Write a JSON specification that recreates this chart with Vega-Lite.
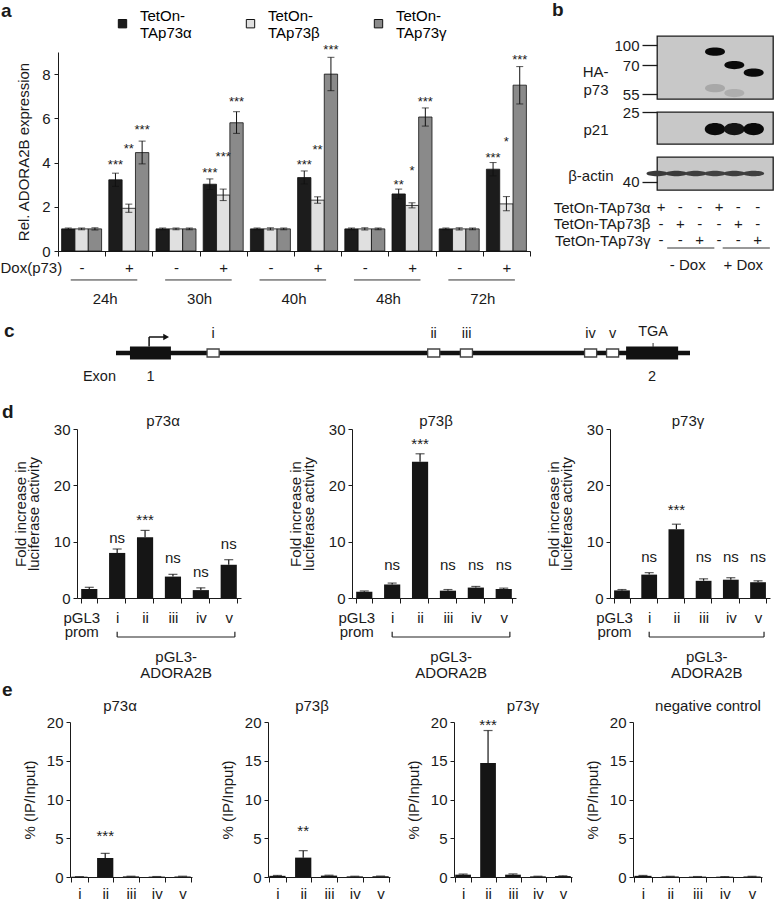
{
"$schema": "https://vega.github.io/schema/vega-lite/v6.json",
"padding": 0,
"background": "white",
"spacing": 0,
"bounds": "flush",
"config": {
"font": "Liberation Sans, Arial, Helvetica, sans-serif",
"view": {"stroke": null},
"axis": {"grid": false, "domainColor": "#1a1a1a", "tickColor": "#1a1a1a", "labelColor": "#1a1a1a", "titleColor": "#1a1a1a", "titleFontWeight": "normal", "labelFontSize": 15, "titleFontSize": 15},
"title": {"fontWeight": "normal", "fontSize": 15, "color": "#1a1a1a"},
"text": {"color": "#1a1a1a"}
},
"datasets": {
"expr": [
{"key":"24h|-","iso":"α","v":1.0,"lo":0.96,"hi":1.04,"sig":"","sy":0},
{"key":"24h|-","iso":"β","v":1.0,"lo":0.96,"hi":1.04,"sig":"","sy":0},
{"key":"24h|-","iso":"γ","v":1.0,"lo":0.95,"hi":1.05,"sig":"","sy":0},
{"key":"24h|+","iso":"α","v":3.22,"lo":2.92,"hi":3.52,"sig":"***","sy":3.9},
{"key":"24h|+","iso":"β","v":1.93,"lo":1.75,"hi":2.12,"sig":"**","sy":4.6},
{"key":"24h|+","iso":"γ","v":4.45,"lo":3.94,"hi":4.97,"sig":"***","sy":5.45},
{"key":"30h|-","iso":"α","v":1.0,"lo":0.96,"hi":1.04,"sig":"","sy":0},
{"key":"30h|-","iso":"β","v":1.0,"lo":0.96,"hi":1.04,"sig":"","sy":0},
{"key":"30h|-","iso":"γ","v":1.0,"lo":0.96,"hi":1.04,"sig":"","sy":0},
{"key":"30h|+","iso":"α","v":3.02,"lo":2.78,"hi":3.26,"sig":"***","sy":3.52},
{"key":"30h|+","iso":"β","v":2.53,"lo":2.28,"hi":2.8,"sig":"***","sy":4.24},
{"key":"30h|+","iso":"γ","v":5.8,"lo":5.32,"hi":6.3,"sig":"***","sy":6.73},
{"key":"40h|-","iso":"α","v":1.0,"lo":0.96,"hi":1.04,"sig":"","sy":0},
{"key":"40h|-","iso":"β","v":1.0,"lo":0.95,"hi":1.05,"sig":"","sy":0},
{"key":"40h|-","iso":"γ","v":1.0,"lo":0.96,"hi":1.04,"sig":"","sy":0},
{"key":"40h|+","iso":"α","v":3.32,"lo":3.03,"hi":3.62,"sig":"***","sy":3.88},
{"key":"40h|+","iso":"β","v":2.3,"lo":2.16,"hi":2.45,"sig":"**","sy":4.55},
{"key":"40h|+","iso":"γ","v":8.0,"lo":7.25,"hi":8.76,"sig":"***","sy":9.07},
{"key":"48h|-","iso":"α","v":1.0,"lo":0.96,"hi":1.04,"sig":"","sy":0},
{"key":"48h|-","iso":"β","v":1.0,"lo":0.95,"hi":1.05,"sig":"","sy":0},
{"key":"48h|-","iso":"γ","v":1.0,"lo":0.96,"hi":1.04,"sig":"","sy":0},
{"key":"48h|+","iso":"α","v":2.58,"lo":2.36,"hi":2.8,"sig":"**","sy":2.97},
{"key":"48h|+","iso":"β","v":2.06,"lo":1.95,"hi":2.18,"sig":"*","sy":3.64},
{"key":"48h|+","iso":"γ","v":6.06,"lo":5.65,"hi":6.47,"sig":"***","sy":6.76},
{"key":"72h|-","iso":"α","v":1.0,"lo":0.96,"hi":1.04,"sig":"","sy":0},
{"key":"72h|-","iso":"β","v":1.0,"lo":0.95,"hi":1.05,"sig":"","sy":0},
{"key":"72h|-","iso":"γ","v":1.0,"lo":0.96,"hi":1.04,"sig":"","sy":0},
{"key":"72h|+","iso":"α","v":3.7,"lo":3.4,"hi":4.0,"sig":"***","sy":4.21},
{"key":"72h|+","iso":"β","v":2.13,"lo":1.82,"hi":2.46,"sig":"*","sy":4.92},
{"key":"72h|+","iso":"γ","v":7.5,"lo":6.65,"hi":8.34,"sig":"***","sy":8.65}
],
"times": [
{"time":"24h","a":"24h|-","b":"24h|+"},
{"time":"30h","a":"30h|-","b":"30h|+"},
{"time":"40h","a":"40h|-","b":"40h|+"},
{"time":"48h","a":"48h|-","b":"48h|+"},
{"time":"72h","a":"72h|-","b":"72h|+"}
],
"ha": [
{"lane":4,"mw":90,"signal":1},
{"lane":5,"mw":70,"signal":1},
{"lane":6,"mw":66,"signal":1},
{"lane":4,"mw":58,"signal":0.15},
{"lane":5,"mw":55.5,"signal":0.12}
],
"p21": [
{"lane":4,"mw":17,"signal":1},
{"lane":5,"mw":17,"signal":0.95},
{"lane":6,"mw":17,"signal":1}
],
"actin": [
{"lane":1,"mw":42,"signal":0.72},
{"lane":2,"mw":42,"signal":0.72},
{"lane":3,"mw":42,"signal":0.7},
{"lane":4,"mw":42,"signal":0.68},
{"lane":5,"mw":42,"signal":0.7},
{"lane":6,"mw":42,"signal":0.7}
],
"lanes": [
{"row":"α","lane":1,"sign":"+"},{"row":"α","lane":2,"sign":"-"},{"row":"α","lane":3,"sign":"-"},
{"row":"α","lane":4,"sign":"+"},{"row":"α","lane":5,"sign":"-"},{"row":"α","lane":6,"sign":"-"},
{"row":"β","lane":1,"sign":"-"},{"row":"β","lane":2,"sign":"+"},{"row":"β","lane":3,"sign":"-"},
{"row":"β","lane":4,"sign":"-"},{"row":"β","lane":5,"sign":"+"},{"row":"β","lane":6,"sign":"-"},
{"row":"γ","lane":1,"sign":"-"},{"row":"γ","lane":2,"sign":"-"},{"row":"γ","lane":3,"sign":"+"},
{"row":"γ","lane":4,"sign":"-"},{"row":"γ","lane":5,"sign":"-"},{"row":"γ","lane":6,"sign":"+"}
],
"dox": [
{"grp":"- Dox","first":1,"mid":2,"last":3},
{"grp":"+ Dox","first":4,"mid":5,"last":6}
],
"backbone": [{"s":0,"e":30}],
"exons": [
{"num":"1","s":0.73,"e":2.87,"mid":1.8},
{"num":"2","s":26.66,"e":29.38,"mid":28.02}
],
"sites": [
{"id":"i","s":4.76,"e":5.39,"c":5.07},
{"id":"ii","s":16.29,"e":16.92,"c":16.6},
{"id":"iii","s":18.0,"e":18.63,"c":18.32},
{"id":"iv","s":24.49,"e":25.12,"c":24.8},
{"id":"v","s":25.64,"e":26.27,"c":25.95}
],
"stop": [{"label":"TGA","pos":28.07}],
"tss": [{"pos":1.73,"to":2.62}],
"luc_a": [
{"cons":"pGL3","v":1.6,"hi":1.9,"sig":"","sy":0},
{"cons":"i","v":8.0,"hi":8.7,"sig":"ns","sy":10.6},
{"cons":"ii","v":10.8,"hi":12.0,"sig":"***","sy":13.8},
{"cons":"iii","v":3.8,"hi":4.2,"sig":"ns","sy":7.1},
{"cons":"iv","v":1.4,"hi":1.8,"sig":"ns","sy":4.6},
{"cons":"v","v":5.9,"hi":6.8,"sig":"ns","sy":9.5}
],
"luc_b": [
{"cons":"pGL3","v":1.1,"hi":1.25,"sig":"","sy":0},
{"cons":"i","v":2.4,"hi":2.65,"sig":"ns","sy":5.9},
{"cons":"ii","v":24.2,"hi":25.6,"sig":"***","sy":27.4},
{"cons":"iii","v":1.3,"hi":1.5,"sig":"ns","sy":5.9},
{"cons":"iv","v":1.85,"hi":2.05,"sig":"ns","sy":5.9},
{"cons":"v","v":1.6,"hi":1.75,"sig":"ns","sy":5.9}
],
"luc_g": [
{"cons":"pGL3","v":1.35,"hi":1.5,"sig":"","sy":0},
{"cons":"i","v":4.15,"hi":4.5,"sig":"ns","sy":7.3},
{"cons":"ii","v":12.2,"hi":13.1,"sig":"***","sy":15.6},
{"cons":"iii","v":3.05,"hi":3.4,"sig":"ns","sy":7.3},
{"cons":"iv","v":3.25,"hi":3.6,"sig":"ns","sy":7.3},
{"cons":"v","v":2.8,"hi":3.05,"sig":"ns","sy":7.3}
],
"bracket": [{"from":"i","to":"v","mid":"iii","label":"pGL3-\nADORA2B"}],
"chip_a": [
{"site":"i","v":0.04,"hi":0.05,"sig":"","sy":0},
{"site":"ii","v":2.45,"hi":3.05,"sig":"***","sy":5.3},
{"site":"iii","v":0.08,"hi":0.1,"sig":"","sy":0},
{"site":"iv","v":0.05,"hi":0.06,"sig":"","sy":0},
{"site":"v","v":0.08,"hi":0.1,"sig":"","sy":0}
],
"chip_b": [
{"site":"i","v":0.15,"hi":0.2,"sig":"","sy":0},
{"site":"ii","v":2.5,"hi":3.4,"sig":"**","sy":6.0},
{"site":"iii","v":0.18,"hi":0.23,"sig":"","sy":0},
{"site":"iv","v":0.08,"hi":0.1,"sig":"","sy":0},
{"site":"v","v":0.1,"hi":0.12,"sig":"","sy":0}
],
"chip_g": [
{"site":"i","v":0.3,"hi":0.38,"sig":"","sy":0},
{"site":"ii","v":14.7,"hi":18.9,"sig":"***","sy":19.6},
{"site":"iii","v":0.3,"hi":0.4,"sig":"","sy":0},
{"site":"iv","v":0.08,"hi":0.1,"sig":"","sy":0},
{"site":"v","v":0.12,"hi":0.15,"sig":"","sy":0}
],
"chip_n": [
{"site":"i","v":0.15,"hi":0.2,"sig":"","sy":0},
{"site":"ii","v":0.07,"hi":0.09,"sig":"","sy":0},
{"site":"iii","v":0.05,"hi":0.06,"sig":"","sy":0},
{"site":"iv","v":0.04,"hi":0.05,"sig":"","sy":0},
{"site":"v","v":0.07,"hi":0.09,"sig":"","sy":0}
]
},
"vconcat": [
{
"hconcat": [
{
"width": 472, "height": 215,
"title": {"text": "a", "anchor": "start", "frame": "group", "dx": -57, "offset": -28, "baseline": "alphabetic", "fontSize": 19, "fontWeight": "bold"},
"layer": [
{"data": {"name": "expr"},
"mark": {"type": "bar", "stroke": "#111111", "strokeWidth": 0.8},
"encoding": {
"x": {"field": "key", "type": "nominal", "scale": {"domain": ["24h|-","24h|+","30h|-","30h|+","40h|-","40h|+","48h|-","48h|+","72h|-","72h|+"], "paddingInner": 0, "paddingOuter": 0},
"axis": {"title": "Dox(p73)", "titleX": -58, "titleY": 16, "titleAlign": "left", "titleBaseline": "middle", "labelExpr": "split(datum.value, '|')[1]", "labelAngle": 0, "labelPadding": 4, "tickBand": "extent", "tickSize": 5}},
"xOffset": {"field": "iso", "type": "nominal", "scale": {"domain": ["α","β","γ"], "paddingInner": 0, "paddingOuter": 0.27}},
"y": {"field": "v", "type": "quantitative", "scale": {"domain": [0, 9], "range": [215, 16], "nice": false},
"axis": {"values": [0,1,2,3,4,5,6,7,8,9], "title": "Rel. ADORA2B expression", "tickSize": 4, "labelPadding": 4, "titlePadding": 10}},
"color": {"field": "iso", "type": "nominal", "scale": {"domain": ["α","β","γ"], "range": ["#1c1c1c","#e0e0e0","#8a8a8a"]},
"legend": {"orient": "none", "legendX": 57, "legendY": -28, "direction": "horizontal", "title": null, "symbolType": "M-1,0.9 L1,0.9 L1,2.9 L-1,2.9 Z", "symbolSize": 70, "symbolStrokeColor": "#111111", "symbolStrokeWidth": 1, "labelFontSize": 15, "labelExpr": "['TetOn-', 'TAp73' + datum.label]", "labelOffset": 10, "columnPadding": 51, "padding": 0, "labelBaseline": "middle"}}
}},
{"data": {"name": "expr"},
"mark": {"type": "rule", "color": "#111111", "strokeWidth": 1},
"encoding": {"x": {"field": "key", "type": "nominal"}, "xOffset": {"field": "iso", "type": "nominal"}, "y": {"field": "lo", "type": "quantitative"}, "y2": {"field": "hi"}}},
{"data": {"name": "expr"},
"mark": {"type": "tick", "orient": "horizontal", "size": 7, "thickness": 1, "color": "#111111"},
"encoding": {"x": {"field": "key", "type": "nominal"}, "xOffset": {"field": "iso", "type": "nominal"}, "y": {"field": "hi", "type": "quantitative"}}},
{"data": {"name": "expr"},
"mark": {"type": "tick", "orient": "horizontal", "size": 7, "thickness": 1, "color": "#111111"},
"encoding": {"x": {"field": "key", "type": "nominal"}, "xOffset": {"field": "iso", "type": "nominal"}, "y": {"field": "lo", "type": "quantitative"}}},
{"data": {"name": "expr"},
"transform": [{"filter": "datum.sig != ''"}],
"mark": {"type": "text", "fontSize": 13, "baseline": "middle"},
"encoding": {"x": {"field": "key", "type": "nominal"}, "xOffset": {"field": "iso", "type": "nominal"}, "y": {"field": "sy", "type": "quantitative"}, "text": {"field": "sig"}}},
{"data": {"name": "times"},
"mark": {"type": "rule", "color": "#333333", "strokeWidth": 1},
"encoding": {"x": {"field": "a", "type": "nominal", "bandPosition": 0.27}, "x2": {"field": "b", "bandPosition": 0.68}, "y": {"datum": -1.31, "type": "quantitative"}}},
{"data": {"name": "times"},
"mark": {"type": "text", "fontSize": 15, "baseline": "middle"},
"encoding": {"x": {"field": "b", "type": "nominal", "bandPosition": 0}, "y": {"datum": -2.17, "type": "quantitative"}, "text": {"field": "time"}}}
]
},
{
"vconcat": [
{
"width": 116, "height": 63,
"view": {"fill": "#c8c8c8", "stroke": "#1a1a1a", "strokeWidth": 1.3},
"title": {"text": "b", "anchor": "start", "frame": "group", "dx": -105, "offset": 1, "baseline": "alphabetic", "fontSize": 19, "fontWeight": "bold"},
"data": {"name": "ha"},
"mark": {"type": "point", "shape": "M-1,0 C-1,-0.55 1,-0.55 1,0 C1,0.55 -1,0.55 -1,0 Z", "filled": true, "size": 400, "opacity": 1, "strokeWidth": 0},
"encoding": {
"x": {"field": "lane", "type": "ordinal", "scale": {"domain": [1,2,3,4,5,6], "paddingInner": 0, "paddingOuter": 0.135, "align": 0}, "axis": null},
"y": {"field": "mw", "type": "quantitative", "scale": {"domain": [52,55,70,100,120], "range": [63,58,29,9,0], "nice": false, "zero": false},
"axis": {"values": [100,70,55], "domain": false, "tickSize": 15, "tickWidth": 1.3, "labelPadding": 3, "title": ["HA-","p73"], "titleAngle": 0, "titleX": -49, "titleY": 35, "titleAlign": "right", "titleBaseline": "middle", "titleLineHeight": 18}},
"color": {"field": "signal", "type": "quantitative", "scale": {"domain": [0,1], "range": ["#c8c8c8","#0a0a0a"]}, "legend": null}
}
},
{
"width": 116, "height": 32,
"view": {"fill": "#c8c8c8", "stroke": "#1a1a1a", "strokeWidth": 1.3},
"data": {"name": "p21"},
"mark": {"type": "point", "shape": "M-1,0 C-1,-0.8 1,-0.8 1,0 C1,0.8 -1,0.8 -1,0 Z", "filled": true, "size": 420, "opacity": 1, "strokeWidth": 0},
"encoding": {
"x": {"field": "lane", "type": "ordinal", "scale": {"domain": [1,2,3,4,5,6], "paddingInner": 0, "paddingOuter": 0.135, "align": 0}, "axis": null},
"y": {"field": "mw", "type": "quantitative", "scale": {"domain": [10,25], "nice": false, "zero": false},
"axis": {"values": [25], "domain": false, "tickSize": 15, "tickWidth": 1.3, "labelPadding": 3, "title": "p21", "titleAngle": 0, "titleX": -49, "titleY": 17, "titleAlign": "right", "titleBaseline": "middle"}},
"color": {"field": "signal", "type": "quantitative", "scale": {"domain": [0,1], "range": ["#c8c8c8","#0a0a0a"]}, "legend": null}
}
},
{
"width": 116, "height": 33,
"view": {"fill": "#c8c8c8", "stroke": "#1a1a1a", "strokeWidth": 1.3},
"data": {"name": "actin"},
"mark": {"type": "point", "shape": "M-1,0 C-1,-0.35 1,-0.35 1,0 C1,0.35 -1,0.35 -1,0 Z", "filled": true, "size": 441, "opacity": 1, "strokeWidth": 0},
"encoding": {
"x": {"field": "lane", "type": "ordinal", "scale": {"domain": [1,2,3,4,5,6], "paddingInner": 0, "paddingOuter": 0.135, "align": 0}, "axis": null},
"y": {"field": "mw", "type": "quantitative", "scale": {"domain": [38,46], "nice": false, "zero": false},
"axis": {"values": [40], "domain": false, "tickSize": 15, "tickWidth": 1.3, "labelPadding": 3, "title": "β-actin", "titleAngle": 0, "titleX": -44, "titleY": 18, "titleAlign": "right", "titleBaseline": "middle"}},
"color": {"field": "signal", "type": "quantitative", "scale": {"domain": [0,1], "range": ["#c8c8c8","#0a0a0a"]}, "legend": null}
}
},
{
"width": 116, "height": 31,
"data": {"name": "lanes"},
"mark": {"type": "text", "fontSize": 15, "baseline": "middle", "dx": 4},
"encoding": {
"x": {"field": "lane", "type": "ordinal", "scale": {"domain": [1,2,3,4,5,6], "paddingInner": 0, "paddingOuter": 0.135, "align": 0}, "axis": null},
"y": {"field": "row", "type": "nominal", "scale": {"type": "point", "domain": ["α","β","γ"], "range": [4, 37], "padding": 0},
"axis": {"title": null, "domain": false, "ticks": false, "labelPadding": 7, "labelExpr": "'TetOn-TAp73' + datum.value"}},
"text": {"field": "sign"}
}
},
{
"width": 116, "height": 20,
"data": {"name": "dox"},
"layer": [
{"mark": {"type": "rule", "color": "#333333", "strokeWidth": 1},
"encoding": {
"x": {"field": "first", "type": "ordinal", "bandPosition": 0.55, "scale": {"domain": [1,2,3,4,5,6], "paddingInner": 0, "paddingOuter": 0.135, "align": 0}, "axis": null},
"x2": {"field": "last", "bandPosition": 1.1},
"y": {"datum": "line", "type": "nominal", "scale": {"type": "point", "domain": ["line","label"], "range": [1, 18], "padding": 0}, "axis": null}
}},
{"mark": {"type": "text", "fontSize": 15, "baseline": "middle", "dx": 3},
"encoding": {
"x": {"field": "mid", "type": "ordinal"},
"y": {"datum": "label", "type": "nominal"},
"text": {"field": "grp"}
}}
]
}
],
"spacing": 13,
"bounds": "flush"
}
],
"spacing": 127,
"bounds": "flush"
},
{
"width": 642, "height": 393,
"title": {"text": "c", "anchor": "start", "frame": "group", "dx": -54, "offset": -320, "baseline": "alphabetic", "fontSize": 19, "fontWeight": "bold"},
"layer": [
{"data": {"name": "backbone"}, "mark": {"type": "rule", "color": "#111111", "strokeWidth": 4.5},
"encoding": {
"x": {"field": "s", "type": "quantitative", "scale": {"domain": [0,30], "range": [58, 632], "nice": false, "zero": false}, "axis": null},
"x2": {"field": "e"},
"y": {"datum": 0, "type": "quantitative", "scale": {"domain": [-1,1], "range": [327, 307], "nice": false, "zero": false}, "axis": null}
}},
{"data": {"name": "exons"}, "mark": {"type": "rect", "color": "#111111"},
"encoding": {"x": {"field": "s", "type": "quantitative"}, "x2": {"field": "e"}, "y": {"datum": -0.65, "type": "quantitative"}, "y2": {"datum": 0.65}}},
{"data": {"name": "sites"}, "mark": {"type": "rect", "fill": "white", "stroke": "#444444", "strokeWidth": 1.3},
"encoding": {"x": {"field": "s", "type": "quantitative"}, "x2": {"field": "e"}, "y": {"datum": -0.4, "type": "quantitative"}, "y2": {"datum": 0.4}}},
{"data": {"name": "sites"}, "mark": {"type": "text", "fontSize": 14.5, "baseline": "middle"},
"encoding": {"x": {"field": "c", "type": "quantitative"}, "y": {"datum": 1.9, "type": "quantitative"}, "text": {"field": "id"}}},
{"data": {"name": "stop"}, "mark": {"type": "text", "fontSize": 14.5, "baseline": "middle"},
"encoding": {"x": {"field": "pos", "type": "quantitative"}, "y": {"datum": 2.1, "type": "quantitative"}, "text": {"field": "label"}}},
{"data": {"name": "stop"}, "mark": {"type": "rule", "color": "#333333", "strokeWidth": 1},
"encoding": {"x": {"field": "pos", "type": "quantitative"}, "y": {"datum": 0.6, "type": "quantitative"}, "y2": {"datum": 1.0}}},
{"data": {"name": "tss"}, "mark": {"type": "rule", "color": "#111111", "strokeWidth": 1.5},
"encoding": {"x": {"field": "pos", "type": "quantitative"}, "y": {"datum": 0.65, "type": "quantitative"}, "y2": {"datum": 1.6}}},
{"data": {"name": "tss"}, "mark": {"type": "rule", "color": "#111111", "strokeWidth": 1.5},
"encoding": {"x": {"field": "pos", "type": "quantitative"}, "x2": {"field": "to"}, "y": {"datum": 1.6, "type": "quantitative"}}},
{"data": {"name": "tss"}, "mark": {"type": "point", "shape": "triangle-right", "size": 45, "filled": true, "color": "#111111", "opacity": 1},
"encoding": {"x": {"field": "to", "type": "quantitative"}, "y": {"datum": 1.6, "type": "quantitative"}}},
{"data": {"name": "exons"}, "mark": {"type": "text", "fontSize": 14.5, "baseline": "middle"},
"encoding": {"x": {"field": "mid", "type": "quantitative"}, "y": {"datum": -2.4, "type": "quantitative"}, "text": {"field": "num"}}},
{"data": {"name": "exons"}, "transform": [{"filter": "datum.num == '1'"}],
"mark": {"type": "text", "fontSize": 14.5, "baseline": "middle", "align": "right"},
"encoding": {"x": {"datum": 0, "type": "quantitative"}, "y": {"datum": -2.4, "type": "quantitative"}, "text": {"value": "Exon"}}}
]
},
{
"title": {"text": "d", "anchor": "start", "frame": "group", "dx": -56, "offset": -23, "baseline": "alphabetic", "fontSize": 19, "fontWeight": "bold"},
"spacing": 0,
"bounds": "flush",
"hconcat": [
{
"width": 183, "height": 169,
"title": {"text": "p73α", "frame": "group", "dx": 13.5, "offset": -19, "baseline": "alphabetic", "fontSize": 15},
"data": {"name": "luc_a"},
"layer": [
{"mark": {"type": "bar", "color": "#151515"},
"encoding": {
"x": {"field": "cons", "type": "nominal", "scale": {"domain": ["pGL3","i","ii","iii","iv","v"], "range": [19, 183], "paddingInner": 0.42, "paddingOuter": 0.15},
"axis": {"title": null, "labelAngle": 0, "labelExpr": "datum.value == 'pGL3' ? ['pGL3', 'prom'] : datum.value", "labelLineHeight": 14, "tickBand": "extent", "tickSize": 5, "labelPadding": 7, "labelOffset": {"condition": {"test": "datum.value == 'pGL3'", "value": -8}, "value": 0}}},
"y": {"field": "v", "type": "quantitative", "scale": {"domain": [0, 30], "nice": false},
"axis": {"values": [0,5,10,15,20,25,30], "title": ["Fold increase in", "luciferase activity"], "titleLineHeight": 13, "titlePadding": 12, "tickSize": 4, "labelPadding": 3, "offset": -19}}
}},
{"mark": {"type": "rule", "color": "#151515", "strokeWidth": 1.2},
"encoding": {"x": {"field": "cons", "type": "nominal"}, "y": {"field": "v", "type": "quantitative"}, "y2": {"field": "hi"}}},
{"mark": {"type": "tick", "orient": "horizontal", "size": 9, "thickness": 1.2, "color": "#151515"},
"encoding": {"x": {"field": "cons", "type": "nominal"}, "y": {"field": "hi", "type": "quantitative"}}},
{"transform": [{"filter": "datum.sig != ''"}], "mark": {"type": "text", "fontSize": 15, "baseline": "middle"},
"encoding": {"x": {"field": "cons", "type": "nominal"}, "y": {"field": "sy", "type": "quantitative"}, "text": {"field": "sig"}}},
{"data": {"name": "bracket"}, "mark": {"type": "rule", "color": "#222222", "strokeWidth": 1.2},
"encoding": {"x": {"field": "from", "type": "nominal", "bandPosition": 0.5}, "x2": {"field": "to", "bandPosition": 0.88}, "y": {"datum": -6.92, "type": "quantitative"}}},
{"data": {"name": "bracket"}, "mark": {"type": "rule", "color": "#222222", "strokeWidth": 1.2},
"encoding": {"x": {"field": "from", "type": "nominal", "bandPosition": 0.5}, "y": {"datum": -6.0, "type": "quantitative"}, "y2": {"datum": -6.92}}},
{"data": {"name": "bracket"}, "mark": {"type": "rule", "color": "#222222", "strokeWidth": 1.2},
"encoding": {"x": {"field": "to", "type": "nominal", "bandPosition": 0.88}, "y": {"datum": -6.0, "type": "quantitative"}, "y2": {"datum": -6.92}}},
{"data": {"name": "bracket"}, "mark": {"type": "text", "fontSize": 15, "baseline": "top", "lineBreak": "\n", "lineHeight": 16},
"encoding": {"x": {"field": "mid", "type": "nominal", "bandPosition": 0.7}, "y": {"datum": -9.23, "type": "quantitative"}, "text": {"field": "label"}}}
]
},
{
"width": 275, "height": 169,
"title": {"text": "p73β", "frame": "group", "dx": 57.5, "offset": -19, "baseline": "alphabetic", "fontSize": 15},
"data": {"name": "luc_b"},
"layer": [
{"mark": {"type": "bar", "color": "#151515"},
"encoding": {
"x": {"field": "cons", "type": "nominal", "scale": {"domain": ["pGL3","i","ii","iii","iv","v"], "range": [111, 275], "paddingInner": 0.42, "paddingOuter": 0.15},
"axis": {"title": null, "labelAngle": 0, "labelExpr": "datum.value == 'pGL3' ? ['pGL3', 'prom'] : datum.value", "labelLineHeight": 14, "tickBand": "extent", "tickSize": 5, "labelPadding": 7, "labelOffset": {"condition": {"test": "datum.value == 'pGL3'", "value": -8}, "value": 0}}},
"y": {"field": "v", "type": "quantitative", "scale": {"domain": [0, 30], "nice": false},
"axis": {"values": [0,5,10,15,20,25,30], "title": ["Fold increase in", "luciferase activity"], "titleLineHeight": 13, "titlePadding": 12, "tickSize": 4, "labelPadding": 3, "offset": -111}}
}},
{"mark": {"type": "rule", "color": "#151515", "strokeWidth": 1.2},
"encoding": {"x": {"field": "cons", "type": "nominal"}, "y": {"field": "v", "type": "quantitative"}, "y2": {"field": "hi"}}},
{"mark": {"type": "tick", "orient": "horizontal", "size": 9, "thickness": 1.2, "color": "#151515"},
"encoding": {"x": {"field": "cons", "type": "nominal"}, "y": {"field": "hi", "type": "quantitative"}}},
{"transform": [{"filter": "datum.sig != ''"}], "mark": {"type": "text", "fontSize": 15, "baseline": "middle"},
"encoding": {"x": {"field": "cons", "type": "nominal"}, "y": {"field": "sy", "type": "quantitative"}, "text": {"field": "sig"}}},
{"data": {"name": "bracket"}, "mark": {"type": "rule", "color": "#222222", "strokeWidth": 1.2},
"encoding": {"x": {"field": "from", "type": "nominal", "bandPosition": 0.5}, "x2": {"field": "to", "bandPosition": 0.88}, "y": {"datum": -6.92, "type": "quantitative"}}},
{"data": {"name": "bracket"}, "mark": {"type": "rule", "color": "#222222", "strokeWidth": 1.2},
"encoding": {"x": {"field": "from", "type": "nominal", "bandPosition": 0.5}, "y": {"datum": -6.0, "type": "quantitative"}, "y2": {"datum": -6.92}}},
{"data": {"name": "bracket"}, "mark": {"type": "rule", "color": "#222222", "strokeWidth": 1.2},
"encoding": {"x": {"field": "to", "type": "nominal", "bandPosition": 0.88}, "y": {"datum": -6.0, "type": "quantitative"}, "y2": {"datum": -6.92}}},
{"data": {"name": "bracket"}, "mark": {"type": "text", "fontSize": 15, "baseline": "top", "lineBreak": "\n", "lineHeight": 16},
"encoding": {"x": {"field": "mid", "type": "nominal", "bandPosition": 0.7}, "y": {"datum": -9.23, "type": "quantitative"}, "text": {"field": "label"}}}
]
},
{
"width": 256, "height": 169,
"title": {"text": "p73γ", "frame": "group", "dx": 44, "offset": -19, "baseline": "alphabetic", "fontSize": 15},
"data": {"name": "luc_g"},
"layer": [
{"mark": {"type": "bar", "color": "#151515"},
"encoding": {
"x": {"field": "cons", "type": "nominal", "scale": {"domain": ["pGL3","i","ii","iii","iv","v"], "range": [94, 254], "paddingInner": 0.42, "paddingOuter": 0.15},
"axis": {"title": null, "labelAngle": 0, "labelExpr": "datum.value == 'pGL3' ? ['pGL3', 'prom'] : datum.value", "labelLineHeight": 14, "tickBand": "extent", "tickSize": 5, "labelPadding": 7, "labelOffset": {"condition": {"test": "datum.value == 'pGL3'", "value": -8}, "value": 0}}},
"y": {"field": "v", "type": "quantitative", "scale": {"domain": [0, 30], "nice": false},
"axis": {"values": [0,5,10,15,20,25,30], "title": ["Fold increase in", "luciferase activity"], "titleLineHeight": 13, "titlePadding": 12, "tickSize": 4, "labelPadding": 3, "offset": -94}}
}},
{"mark": {"type": "rule", "color": "#151515", "strokeWidth": 1.2},
"encoding": {"x": {"field": "cons", "type": "nominal"}, "y": {"field": "v", "type": "quantitative"}, "y2": {"field": "hi"}}},
{"mark": {"type": "tick", "orient": "horizontal", "size": 9, "thickness": 1.2, "color": "#151515"},
"encoding": {"x": {"field": "cons", "type": "nominal"}, "y": {"field": "hi", "type": "quantitative"}}},
{"transform": [{"filter": "datum.sig != ''"}], "mark": {"type": "text", "fontSize": 15, "baseline": "middle"},
"encoding": {"x": {"field": "cons", "type": "nominal"}, "y": {"field": "sy", "type": "quantitative"}, "text": {"field": "sig"}}},
{"data": {"name": "bracket"}, "mark": {"type": "rule", "color": "#222222", "strokeWidth": 1.2},
"encoding": {"x": {"field": "from", "type": "nominal", "bandPosition": 0.5}, "x2": {"field": "to", "bandPosition": 0.88}, "y": {"datum": -6.92, "type": "quantitative"}}},
{"data": {"name": "bracket"}, "mark": {"type": "rule", "color": "#222222", "strokeWidth": 1.2},
"encoding": {"x": {"field": "from", "type": "nominal", "bandPosition": 0.5}, "y": {"datum": -6.0, "type": "quantitative"}, "y2": {"datum": -6.92}}},
{"data": {"name": "bracket"}, "mark": {"type": "rule", "color": "#222222", "strokeWidth": 1.2},
"encoding": {"x": {"field": "to", "type": "nominal", "bandPosition": 0.88}, "y": {"datum": -6.0, "type": "quantitative"}, "y2": {"datum": -6.92}}},
{"data": {"name": "bracket"}, "mark": {"type": "text", "fontSize": 15, "baseline": "top", "lineBreak": "\n", "lineHeight": 16},
"encoding": {"x": {"field": "mid", "type": "nominal", "bandPosition": 0.7}, "y": {"datum": -9.23, "type": "quantitative"}, "text": {"field": "label"}}}
]
}
]
},
{
"title": {"text": "e", "anchor": "start", "frame": "group", "dx": -56, "offset": -286, "baseline": "alphabetic", "fontSize": 19, "fontWeight": "bold"},
"spacing": 0,
"bounds": "flush",
"hconcat": [
{
"width": 142, "height": 448,
"title": {"text": "p73α", "frame": "group", "dx": -9, "offset": -297, "baseline": "alphabetic", "fontSize": 15},
"data": {"name": "chip_a"},
"layer": [
{"mark": {"type": "bar", "color": "#151515"},
"encoding": {
"x": {"field": "site", "type": "nominal", "scale": {"domain": ["i","ii","iii","iv","v"], "range": [12, 134], "paddingInner": 0.37, "paddingOuter": 0.05},
"axis": {"title": null, "labelAngle": 0, "tickBand": "extent", "tickSize": 5, "labelPadding": 4}},
"y": {"field": "v", "type": "quantitative", "scale": {"domain": [0, 20], "range": [448, 293], "nice": false},
"axis": {"values": [0,5,10,15,20], "title": "% (IP/Input)", "offset": -12, "tickSize": 4, "labelPadding": 3, "titlePadding": 9}}
}},
{"mark": {"type": "rule", "color": "#151515", "strokeWidth": 1.2},
"encoding": {"x": {"field": "site", "type": "nominal"}, "y": {"field": "v", "type": "quantitative"}, "y2": {"field": "hi"}}},
{"mark": {"type": "tick", "orient": "horizontal", "size": 9, "thickness": 1.2, "color": "#151515"},
"encoding": {"x": {"field": "site", "type": "nominal"}, "y": {"field": "hi", "type": "quantitative"}}},
{"transform": [{"filter": "datum.sig != ''"}], "mark": {"type": "text", "fontSize": 15, "baseline": "middle"},
"encoding": {"x": {"field": "site", "type": "nominal"}, "y": {"field": "sy", "type": "quantitative"}, "text": {"field": "sig"}}}
]
},
{
"width": 190, "height": 448,
"title": {"text": "p73β", "frame": "group", "dx": 17, "offset": -297, "baseline": "alphabetic", "fontSize": 15},
"data": {"name": "chip_b"},
"layer": [
{"mark": {"type": "bar", "color": "#151515"},
"encoding": {
"x": {"field": "site", "type": "nominal", "scale": {"domain": ["i","ii","iii","iv","v"], "range": [68, 190], "paddingInner": 0.37, "paddingOuter": 0.05},
"axis": {"title": null, "labelAngle": 0, "tickBand": "extent", "tickSize": 5, "labelPadding": 4}},
"y": {"field": "v", "type": "quantitative", "scale": {"domain": [0, 20], "range": [448, 293], "nice": false},
"axis": {"values": [0,5,10,15,20], "title": "% (IP/Input)", "offset": -68, "tickSize": 4, "labelPadding": 3, "titlePadding": 9}}
}},
{"mark": {"type": "rule", "color": "#151515", "strokeWidth": 1.2},
"encoding": {"x": {"field": "site", "type": "nominal"}, "y": {"field": "v", "type": "quantitative"}, "y2": {"field": "hi"}}},
{"mark": {"type": "tick", "orient": "horizontal", "size": 9, "thickness": 1.2, "color": "#151515"},
"encoding": {"x": {"field": "site", "type": "nominal"}, "y": {"field": "hi", "type": "quantitative"}}},
{"transform": [{"filter": "datum.sig != ''"}], "mark": {"type": "text", "fontSize": 15, "baseline": "middle"},
"encoding": {"x": {"field": "site", "type": "nominal"}, "y": {"field": "sy", "type": "quantitative"}, "text": {"field": "sig"}}}
]
},
{
"width": 180, "height": 448,
"title": {"text": "p73γ", "frame": "group", "dx": 43, "offset": -297, "baseline": "alphabetic", "fontSize": 15},
"data": {"name": "chip_g"},
"layer": [
{"mark": {"type": "bar", "color": "#151515"},
"encoding": {
"x": {"field": "site", "type": "nominal", "scale": {"domain": ["i","ii","iii","iv","v"], "range": [64, 182], "paddingInner": 0.37, "paddingOuter": 0.05},
"axis": {"title": null, "labelAngle": 0, "tickBand": "extent", "tickSize": 5, "labelPadding": 4}},
"y": {"field": "v", "type": "quantitative", "scale": {"domain": [0, 20], "range": [448, 293], "nice": false},
"axis": {"values": [0,5,10,15,20], "title": "% (IP/Input)", "offset": -64, "tickSize": 4, "labelPadding": 3, "titlePadding": 9}}
}},
{"mark": {"type": "rule", "color": "#151515", "strokeWidth": 1.2},
"encoding": {"x": {"field": "site", "type": "nominal"}, "y": {"field": "v", "type": "quantitative"}, "y2": {"field": "hi"}}},
{"mark": {"type": "tick", "orient": "horizontal", "size": 9, "thickness": 1.2, "color": "#151515"},
"encoding": {"x": {"field": "site", "type": "nominal"}, "y": {"field": "hi", "type": "quantitative"}}},
{"transform": [{"filter": "datum.sig != ''"}], "mark": {"type": "text", "fontSize": 15, "baseline": "middle"},
"encoding": {"x": {"field": "site", "type": "nominal"}, "y": {"field": "sy", "type": "quantitative"}, "text": {"field": "sig"}}}
]
},
{
"width": 204, "height": 448,
"title": {"text": "negative control", "frame": "group", "dx": 36, "offset": -297, "baseline": "alphabetic", "fontSize": 15},
"data": {"name": "chip_n"},
"layer": [
{"mark": {"type": "bar", "color": "#151515"},
"encoding": {
"x": {"field": "site", "type": "nominal", "scale": {"domain": ["i","ii","iii","iv","v"], "range": [63, 192], "paddingInner": 0.37, "paddingOuter": 0.05},
"axis": {"title": null, "labelAngle": 0, "tickBand": "extent", "tickSize": 5, "labelPadding": 4}},
"y": {"field": "v", "type": "quantitative", "scale": {"domain": [0, 20], "range": [448, 293], "nice": false},
"axis": {"values": [0,5,10,15,20], "title": "% (IP/Input)", "offset": -63, "tickSize": 4, "labelPadding": 3, "titlePadding": 9}}
}},
{"mark": {"type": "rule", "color": "#151515", "strokeWidth": 1.2},
"encoding": {"x": {"field": "site", "type": "nominal"}, "y": {"field": "v", "type": "quantitative"}, "y2": {"field": "hi"}}},
{"mark": {"type": "tick", "orient": "horizontal", "size": 9, "thickness": 1.2, "color": "#151515"},
"encoding": {"x": {"field": "site", "type": "nominal"}, "y": {"field": "hi", "type": "quantitative"}}}
]
}
]
}
]
}
